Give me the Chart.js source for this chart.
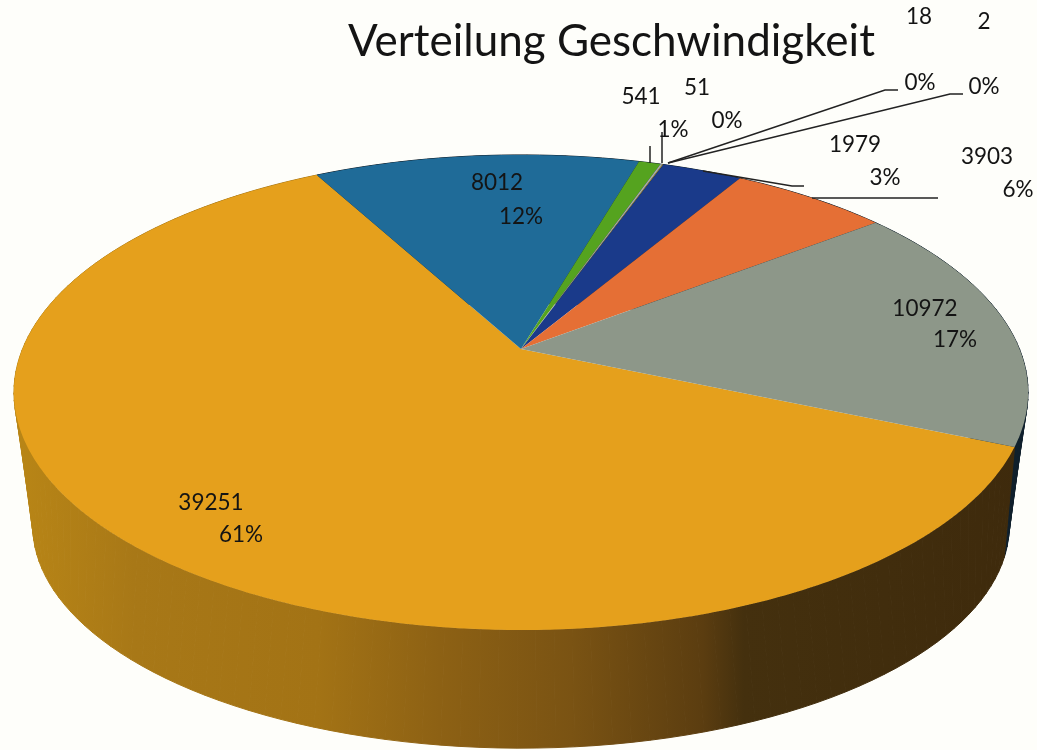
<!DOCTYPE html>
<html>
<head>
<meta charset="utf-8">
<title>Verteilung Geschwindigkeit</title>
<script src="https://cdn.jsdelivr.net/npm/chart.js@4"></script>
<style>
  html, body { margin: 0; padding: 0; background: #fefefa; overflow: hidden; }
  canvas { display: block; }
</style>
</head>
<body>
<canvas id="pieChart" width="1037" height="750"></canvas>
<script>
// Data
var categories = ['A', 'B', 'C', 'D', 'E', 'F', 'G', 'H', 'I'];
var counts = [39251, 8012, 541, 51, 18, 2, 1979, 3903, 10972];
var percentLabels = ['61%', '12%', '1%', '0%', '0%', '0%', '3%', '6%', '17%'];
var sliceColors = ['#e5a01c', '#1f6b98', '#55a31f', '#a8adb0', '#c9a227', '#3f7fbf', '#1a3a8a', '#e56f35', '#8d9789'];

// Where each label pair sits: [count x, count y, percent x, percent y]
var labelSpots = [
  [211, 503, 241, 535],
  [497, 183, 521, 217],
  [641, 97, 673, 130],
  [697, 88, 727, 121],
  [919, 17, 920, 83],
  [984, 22, 984, 87],
  [855, 145, 885, 178],
  [987, 157, 1018, 190],
  [925, 309, 955, 340]
];

// Leader lines from the small slices to their labels
var leaders = [
  [[650, 146], [650, 163]],
  [[662, 132], [662, 163]],
  [[668, 163], [885, 90], [898, 90]],
  [[668, 163], [950, 94], [963, 94]],
  [[703, 171], [792, 186], [804, 186]],
  [[812, 198], [938, 198]]
];

// Perspective of the tilted disc: top face and bottom face
var topFace = { cx: 521, cy: 349, a: 498.5, b: 229.6, k: 0.183 };
var bottomFace = { cx: 521, cy: 485, a: 480, b: 215, k: 0.183 };

function project(face, angle) {
  var u = Math.cos(angle), v = Math.sin(angle);
  var w = 1 - face.k * v;
  return { x: face.cx + face.a * u / w, y: face.cy + face.b * v / w };
}

// Side edges of the wall lean inwards towards the bottom
function projectBottom(angle) {
  return project(bottomFace, angle - 0.09 * Math.cos(angle));
}

function traceRim(ctx, face, from, to) {
  var steps = Math.max(2, Math.ceil(Math.abs(to - from) / 0.01));
  for (var i = 0; i <= steps; i++) {
    var p = project(face, from + (to - from) * i / steps);
    ctx.lineTo(p.x, p.y);
  }
}

function wallFill(ctx, index) {
  if (index !== 0) return '#10202c';
  var g = ctx.createLinearGradient(13, 0, 1028, 0);
  g.addColorStop(0, '#b98616');
  g.addColorStop(0.12, '#a87817');
  g.addColorStop(0.3, '#a37315');
  g.addColorStop(0.42, '#8d6114');
  g.addColorStop(0.55, '#7a5313');
  g.addColorStop(0.68, '#5b3d10');
  g.addColorStop(0.72, '#44300e');
  g.addColorStop(1, '#3e2a0c');
  return g;
}

// One small quad at a time, the wall folds over itself at the sides
function drawWall(ctx, arc, i) {
  var step = 0.03;
  var fill = wallFill(ctx, i);
  ctx.fillStyle = fill;
  ctx.strokeStyle = fill;
  ctx.lineWidth = 1;
  for (var a = arc.startAngle; a < arc.endAngle; a += step) {
    var b = Math.min(a + step, arc.endAngle);
    var p1 = project(topFace, a), p2 = project(topFace, b);
    var p3 = projectBottom(b), p4 = projectBottom(a);
    ctx.beginPath();
    ctx.moveTo(p1.x, p1.y);
    ctx.lineTo(p2.x, p2.y);
    ctx.lineTo(p3.x, p3.y);
    ctx.lineTo(p4.x, p4.y);
    ctx.closePath();
    ctx.fill();
    ctx.stroke();
  }
}

// Draws the slices with the angles Chart.js worked out, on a tilted disc
var tiltedPie = {
  id: 'tiltedPie',
  beforeDatasetsDraw: function (chart) {
    var ctx = chart.ctx;
    var arcs = chart.getDatasetMeta(0).data;
    ctx.save();
    // gray wall first, the gold wall lies in front of it
    for (var i = arcs.length - 1; i >= 0; i--) {
      drawWall(ctx, arcs[i], i);
    }
    arcs.forEach(function (arc) {
      ctx.beginPath();
      ctx.moveTo(topFace.cx, topFace.cy);
      traceRim(ctx, topFace, arc.startAngle, arc.endAngle);
      ctx.closePath();
      ctx.fillStyle = arc.options.backgroundColor;
      ctx.fill();
    });
    ctx.restore();
    return false;
  },
  afterDraw: function (chart) {
    var ctx = chart.ctx;
    ctx.save();
    ctx.strokeStyle = '#222222';
    ctx.lineWidth = 1.5;
    leaders.forEach(function (line) {
      ctx.beginPath();
      line.forEach(function (p, i) {
        if (i === 0) ctx.moveTo(p[0], p[1]);
        else ctx.lineTo(p[0], p[1]);
      });
      ctx.stroke();
    });
    ctx.font = '22.5px Lato';
    ctx.fillStyle = '#141414';
    ctx.textAlign = 'center';
    ctx.textBaseline = 'middle';
    labelSpots.forEach(function (s, i) {
      ctx.fillText(String(counts[i]), s[0], s[1]);
      ctx.fillText(percentLabels[i], s[2], s[3]);
    });
    ctx.restore();
  }
};

new Chart(document.getElementById('pieChart'), {
  type: 'pie',
  data: {
    labels: categories,
    datasets: [{ data: counts, backgroundColor: sliceColors, borderWidth: 0 }]
  },
  options: {
    responsive: false,
    animation: false,
    rotation: 113.3,
    layout: { padding: { left: 186 } },
    plugins: {
      legend: { display: false },
      tooltip: { enabled: false },
      title: {
        display: true,
        text: 'Verteilung Geschwindigkeit',
        color: '#141414',
        font: { family: 'Lato', size: 44, weight: 'normal' },
        padding: { top: 15, bottom: 10 }
      }
    }
  },
  plugins: [tiltedPie]
});
</script>
</body>
</html>
